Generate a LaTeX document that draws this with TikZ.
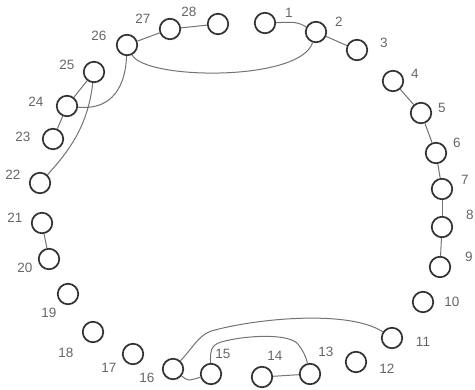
\documentclass[tikz,border=0pt]{standalone}
\usepackage{fontspec}
\setmainfont{Liberation Sans}
\usepackage{tikz}
\usetikzlibrary{positioning}

\tikzset{
    vertex/.style={circle, draw=black!80, line width=1.7pt, minimum size=20.5pt, inner sep=0pt},
    lbl/.style={text=black!60, font=\fontsize{13.5}{16}\selectfont, inner sep=0pt},
    edge/.style={draw=black!55, line width=1pt}
}

\begin{document}
\begin{tikzpicture}[x=1pt, y=-1pt]
    \useasboundingbox (0,0) rectangle (475,390);

    % Vertices
    \node[vertex] (n1) at (265,23) {};
    \node[vertex] (n2) at (316,32) {};
    \node[vertex] (n3) at (357,50) {};
    \node[vertex] (n4) at (393,81) {};
    \node[vertex] (n5) at (421,113) {};
    \node[vertex] (n6) at (436,153) {};
    \node[vertex] (n7) at (442,189) {};
    \node[vertex] (n8) at (442,227) {};
    \node[vertex] (n9) at (440,267) {};
    \node[vertex] (n10) at (423,302) {};
    \node[vertex] (n11) at (392,338) {};
    \node[vertex] (n12) at (356,362) {};
    \node[vertex] (n13) at (310,374) {};
    \node[vertex] (n14) at (262,377) {};
    \node[vertex] (n15) at (211,374) {};
    \node[vertex] (n16) at (173,369) {};
    \node[vertex] (n17) at (133,354) {};
    \node[vertex] (n18) at (93,332) {};
    \node[vertex] (n19) at (68,294) {};
    \node[vertex] (n20) at (49,259) {};
    \node[vertex] (n21) at (42,223) {};
    \node[vertex] (n22) at (40,183) {};
    \node[vertex] (n23) at (53,139) {};
    \node[vertex] (n24) at (67,106) {};
    \node[vertex] (n25) at (94,72) {};
    \node[vertex] (n26) at (127,45) {};
    \node[vertex] (n27) at (170,29) {};
    \node[vertex] (n28) at (218,24) {};

    % Labels
    \node[lbl] (t1) at (289,13) {1};
    \node[lbl] (t2) at (339,22) {2};
    \node[lbl] (t3) at (384,43) {3};
    \node[lbl] (t4) at (415,74) {4};
    \node[lbl] (t5) at (442,108) {5};
    \node[lbl] (t6) at (457,143) {6};
    \node[lbl] (t7) at (465,180) {7};
    \node[lbl] (t8) at (470,215) {8};
    \node[lbl] (t9) at (469,257) {9};
    \node[lbl] (t10) at (452,302) {10};
    \node[lbl] (t11) at (423,342) {11};
    \node[lbl] (t12) at (387,369) {12};
    \node[lbl] (t13) at (326,352) {13};
    \node[lbl] (t14) at (275,356) {14};
    \node[lbl] (t15) at (223,354) {15};
    \node[lbl] (t16) at (147,378) {16};
    \node[lbl] (t17) at (109,368) {17};
    \node[lbl] (t18) at (66,353) {18};
    \node[lbl] (t19) at (49,313) {19};
    \node[lbl] (t20) at (25,268) {20};
    \node[lbl] (t21) at (15,218) {21};
    \node[lbl] (t22) at (13,175) {22};
    \node[lbl] (t23) at (23,137) {23};
    \node[lbl] (t24) at (36,102) {24};
    \node[lbl] (t25) at (67,65) {25};
    \node[lbl] (t26) at (99,36) {26};
    \node[lbl] (t27) at (143,19) {27};
    \node[lbl] (t28) at (189,12) {28};

    % Straight edges
    \draw[edge] (n27) -- (n28);
    \draw[edge] (n26) -- (n27);
    \draw[edge] (n2) -- (n3);
    \draw[edge] (n24) -- (n25);
    \draw[edge] (n23) -- (n24);
    \draw[edge] (n4) -- (n5);
    \draw[edge] (n5) -- (n6);
    \draw[edge] (n6) -- (n7);
    \draw[edge] (n7) -- (n8);
    \draw[edge] (n8) -- (n9);
    \draw[edge] (n20) -- (n21);
    \draw[edge] (n13) -- (n14);

    % Curved edges
    \draw[edge] (n1) .. controls (297,22) .. (n2);
    \draw[edge] (n26) .. controls (145,80) and (300,82) .. (n2);
    \draw[edge] (n26) .. controls (125,95) and (105,110) .. (n24);
    \draw[edge] (n25) .. controls (88,125) and (70,150) .. (n22);
    \draw[edge] (n16) .. controls (188,381) .. (n15);
    \draw[edge] (n16) .. controls (195,345) and (200,333) .. (215,330)
        .. controls (260,318) and (350,310) .. (n11);
    \draw[edge] (n15) .. controls (210,348) and (212,344) .. (225,341)
        .. controls (245,336) and (285,333) .. (297,343)
        .. controls (303,350) and (306,357) .. (n13);
\end{tikzpicture}
\end{document}
